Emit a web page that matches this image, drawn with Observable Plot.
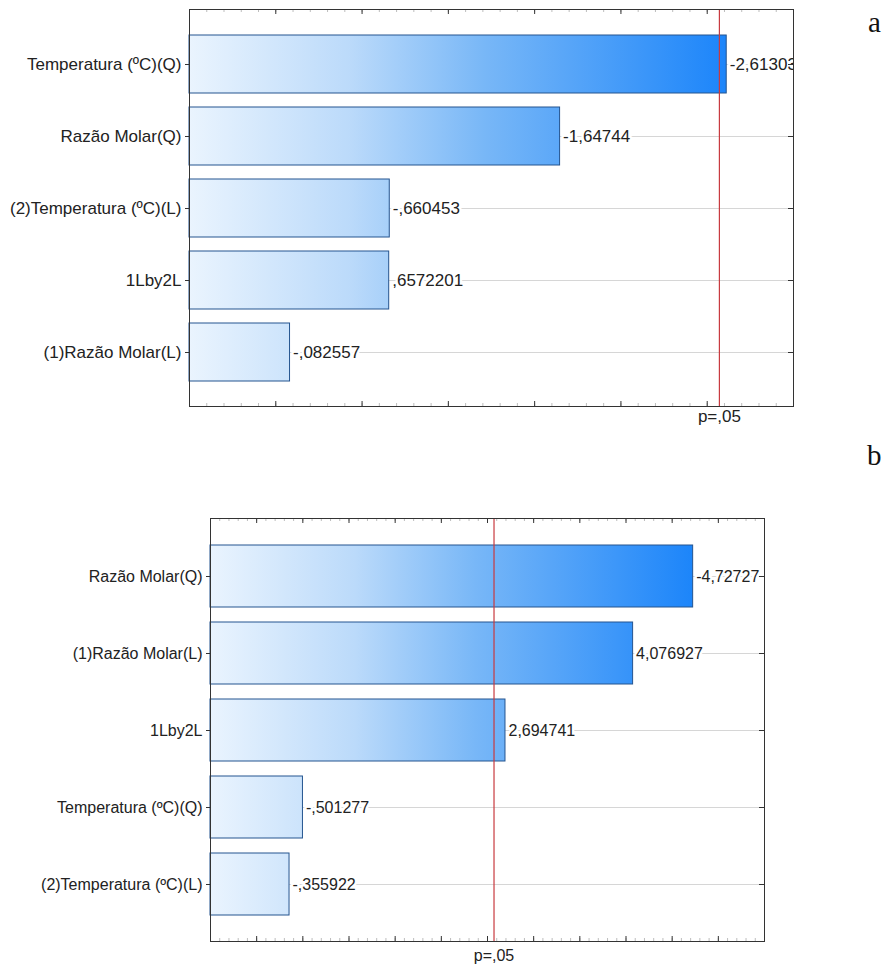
<!DOCTYPE html>
<html>
<head>
<meta charset="utf-8">
<script src="https://cdn.jsdelivr.net/npm/d3@7"></script>
<script src="https://cdn.jsdelivr.net/npm/@observablehq/plot@0.6"></script>
<style>
  body { margin: 0; background: #fff; }
  #page { position: relative; width: 886px; height: 969px; overflow: hidden; }
  .panel { position: absolute; left: 0; }
  .tag { position: absolute; font-family: "Liberation Serif", "Times New Roman", serif; font-size: 29px; line-height: 29px; color: #111; }
</style>
</head>
<body>
<div id="page"></div>
<script>
// Pareto chart of standardized effects, panel (a)
const factorsA = ["Temperatura (ºC)(Q)", "Razão Molar(Q)", "(2)Temperatura (ºC)(L)", "1Lby2L", "(1)Razão Molar(L)"];
const effectsA = [-2.61303, -1.64744, -0.660453, 0.6572201, -0.082557];
const xDomainA = [-0.5, 3.0];

// Pareto chart of standardized effects, panel (b)
const factorsB = ["Razão Molar(Q)", "(1)Razão Molar(L)", "1Lby2L", "Temperatura (ºC)(Q)", "(2)Temperatura (ºC)(L)"];
const effectsB = [-4.72727, 4.076927, 2.694741, -0.501277, -0.355922];
const xDomainB = [-0.5, 5.5];

// critical t value for p = .05
const tCritical = 2.570582;
const pLabel = "p=,05";
const panelTags = ["a", "b"];

// Effect labels: 8 characters, comma decimal, no leading zero
function fmtEffect(v) {
  const sign = v < 0 ? "-" : "";
  const a = Math.abs(v);
  const ip = Math.floor(a);
  const ipStr = ip === 0 ? "" : String(ip);
  const decimals = 8 - sign.length - ipStr.length - 1;
  return sign + ipStr + "," + a.toFixed(decimals).split(".")[1];
}

const FONT = "'Liberation Sans', Arial, sans-serif";

function paretoPanel(o) {
  const {factors, effects, xDomain, width, height, marginLeft, marginRight, marginTop, marginBottom, gradId, pDy, fontSize} = o;
  const rows = factors.map((f, i) => ({factor: f, effect: effects[i]}));
  const W = width - marginLeft - marginRight;
  const H = height - marginTop - marginBottom;
  const minor = d3.range(Math.round(xDomain[0] * 10), Math.round(xDomain[1] * 10) + 1).map(k => k / 10);
  const major = minor.filter(v => Math.abs(Math.round(v * 2) - v * 2) < 1e-9);

  const plot = Plot.plot({
    width, height, marginLeft, marginRight, marginTop, marginBottom,
    style: {fontFamily: FONT, fontSize: fontSize + "px", color: "#222", background: "#fff"},
    x: {domain: xDomain, axis: null},
    y: {type: "band", domain: factors, paddingInner: 0.2, paddingOuter: 0.34, axis: null},
    marks: [
      // horizontal grid through each effect
      Plot.ruleY(factors, {y: d => d, stroke: "#d6d6d6", strokeWidth: 1}),
      // effect bars, measured from the left edge of the axis
      Plot.barX(rows, {
        y: "factor", x1: () => xDomain[0], x2: d => Math.abs(d.effect),
        fill: `url(#${gradId})`, stroke: "#24548f", strokeWidth: 1
      }),
      // significance threshold
      Plot.ruleX([tCritical], {x: d => d, stroke: "#c83a3f", strokeWidth: 1.2}),
      // value labels
      Plot.text(rows, {
        y: "factor", x: d => Math.abs(d.effect), text: d => fmtEffect(d.effect),
        textAnchor: "start", dx: 3, fill: "#222", stroke: "#fff", strokeWidth: 5,
        fontSize, clip: true
      }),
      // minor x ticks, bottom and top, pointing inward
      Plot.ruleX(minor, {x: d => d, insetTop: H - 3, stroke: "#bdbdbd"}),
      Plot.ruleX(minor, {x: d => d, insetBottom: H - 3, stroke: "#bdbdbd"}),
      // major x ticks
      Plot.ruleX(major, {x: d => d, insetTop: H - 5, stroke: "#333"}),
      Plot.ruleX(major, {x: d => d, insetBottom: H - 5, stroke: "#333"}),
      // right-edge ticks at each factor
      Plot.ruleY(factors, {y: d => d, insetLeft: W - 5, stroke: "#333"}),
      Plot.axisY({tickSize: 4, tickPadding: 4, fontSize, label: null, stroke: "#333", fill: "#222"}),
      Plot.frame({stroke: "#333", strokeWidth: 1}),
      // threshold label under the axis
      Plot.text([tCritical], {x: d => d, text: () => pLabel, frameAnchor: "bottom", dy: pDy, fontSize, fill: "#222"})
    ]
  });

  // shared horizontal gradient from the axis start to the longest bar
  const xs = plot.scale("x");
  const x1 = marginLeft;
  const x2 = xs.apply(d3.max(effects, e => Math.abs(e)));
  const svg = d3.select(plot.tagName === "svg" ? plot : plot.querySelector("svg"));
  const grad = svg.insert("defs", ":first-child").append("linearGradient")
    .attr("id", gradId).attr("gradientUnits", "userSpaceOnUse")
    .attr("x1", x1).attr("x2", x2).attr("y1", 0).attr("y2", 0);
  [[0, "#eaf4fe"], [0.3, "#bbdafa"], [0.55, "#78b7f7"], [1, "#1c85fa"]].forEach(([off, c]) =>
    grad.append("stop").attr("offset", off).attr("stop-color", c));
  return plot;
}

const page = document.getElementById("page");

const panels = [
  {top: 0, factors: factorsA, effects: effectsA, xDomain: xDomainA, width: 886, height: 440,
   marginLeft: 189, marginRight: 93, marginTop: 9, marginBottom: 34, gradId: "gradA", pDy: 15, fontSize: 17},
  {top: 440, factors: factorsB, effects: effectsB, xDomain: xDomainB, width: 886, height: 529,
   marginLeft: 210, marginRight: 122, marginTop: 78, marginBottom: 28, gradId: "gradB", pDy: 19, fontSize: 16}
];

panels.forEach((p, i) => {
  const wrap = document.createElement("div");
  wrap.className = "panel";
  wrap.style.top = p.top + "px";
  wrap.appendChild(paretoPanel(p));
  page.appendChild(wrap);
});

// panel letters
[[868, 8], [867, 441]].forEach(([left, top], i) => {
  const t = document.createElement("div");
  t.className = "tag";
  t.style.left = left + "px";
  t.style.top = top + "px";
  t.textContent = panelTags[i];
  page.appendChild(t);
});
</script>
</body>
</html>
